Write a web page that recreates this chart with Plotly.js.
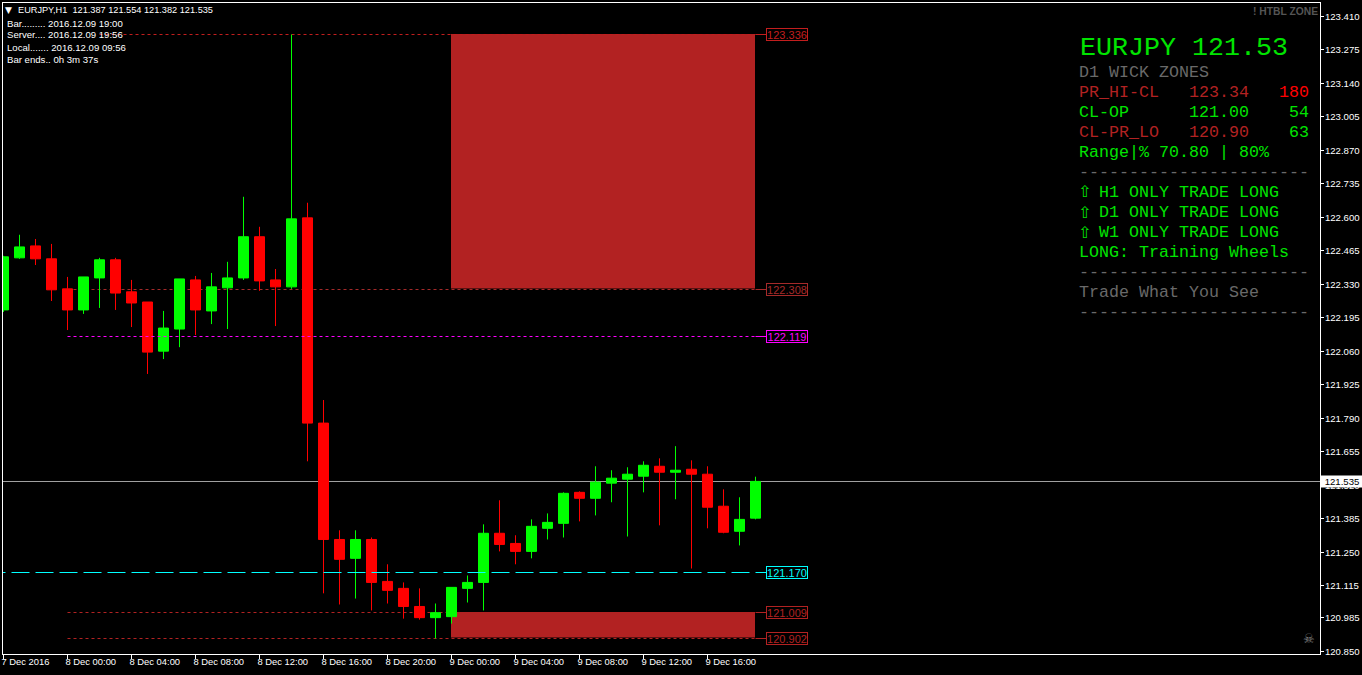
<!DOCTYPE html>
<html>
<head>
<meta charset="utf-8">
<script src="https://cdn.plot.ly/plotly-3.0.1.min.js"></script>
<style>html,body{margin:0;padding:0;background:#000;overflow:hidden}#chart{width:1362px;height:675px}</style>
</head>
<body>
<div id="chart"></div>
<script>
const times = [
 "2016-12-07 20:00","2016-12-07 21:00","2016-12-07 22:00","2016-12-07 23:00",
 "2016-12-08 00:00","2016-12-08 01:00","2016-12-08 02:00","2016-12-08 03:00","2016-12-08 04:00","2016-12-08 05:00",
 "2016-12-08 06:00","2016-12-08 07:00","2016-12-08 08:00","2016-12-08 09:00","2016-12-08 10:00","2016-12-08 11:00",
 "2016-12-08 12:00","2016-12-08 13:00","2016-12-08 14:00","2016-12-08 15:00","2016-12-08 16:00","2016-12-08 17:00",
 "2016-12-08 18:00","2016-12-08 19:00","2016-12-08 20:00","2016-12-08 21:00","2016-12-08 22:00","2016-12-08 23:00",
 "2016-12-09 00:00","2016-12-09 01:00","2016-12-09 02:00","2016-12-09 03:00","2016-12-09 04:00","2016-12-09 05:00",
 "2016-12-09 06:00","2016-12-09 07:00","2016-12-09 08:00","2016-12-09 09:00","2016-12-09 10:00","2016-12-09 11:00",
 "2016-12-09 12:00","2016-12-09 13:00","2016-12-09 14:00","2016-12-09 15:00","2016-12-09 16:00","2016-12-09 17:00",
 "2016-12-09 18:00","2016-12-09 19:00"];
const opens = [122.226,122.436,122.484,122.432,122.311,122.226,122.355,122.428,122.299,122.258,122.060,122.149,122.347,122.222,122.315,122.355,
 122.521,122.347,122.319,122.597,121.770,121.301,121.225,121.301,121.132,121.104,121.031,120.986,120.990,121.104,121.128,121.326,
 121.285,121.253,121.346,121.366,121.491,121.467,121.528,121.544,121.556,121.596,121.572,121.584,121.564,121.435,121.334,121.387];
const highs = [122.444,122.529,122.512,122.492,122.359,122.359,122.436,122.436,122.347,122.258,122.222,122.351,122.363,122.375,122.420,122.682,
 122.561,122.391,123.336,122.658,121.863,121.338,121.338,121.309,121.201,121.128,121.104,121.043,121.108,121.156,121.362,121.459,
 121.318,121.382,121.406,121.491,121.495,121.596,121.580,121.592,121.616,121.628,121.677,121.620,121.596,121.503,121.471,121.554];
const lows = [122.218,122.432,122.407,122.262,122.145,122.210,122.234,122.226,122.157,121.968,122.028,122.076,122.125,122.169,122.149,122.347,
 122.303,122.161,122.311,121.616,121.084,121.039,121.063,121.015,121.043,120.982,120.978,120.902,120.962,121.047,121.015,121.253,
 121.201,121.225,121.301,121.309,121.374,121.398,121.451,121.313,121.491,121.358,121.463,121.184,121.346,121.326,121.277,121.382];
const closes = [122.440,122.480,122.432,122.307,122.226,122.359,122.428,122.294,122.254,122.056,122.153,122.351,122.226,122.319,122.355,122.521,
 122.343,122.319,122.593,121.770,121.301,121.221,121.301,121.128,121.096,121.031,120.986,121.006,121.108,121.128,121.326,121.281,
 121.253,121.354,121.370,121.487,121.467,121.532,121.548,121.564,121.600,121.572,121.580,121.564,121.431,121.330,121.382,121.535];

const yTickVals = [123.410,123.275,123.140,123.005,122.870,122.735,122.600,122.465,122.330,122.195,122.060,121.925,121.790,121.655,121.520,121.385,121.250,121.115,120.985,120.850];
const yTickText = ["123.410","123.275","123.140","123.005","122.870","122.735","122.600","122.465","122.330","122.195","122.060","121.925","121.790","121.655","121.520","121.385","121.250","121.115","120.985","120.850"];
const xTickVals = ["2016-12-07 20:00","2016-12-08 00:00","2016-12-08 04:00","2016-12-08 08:00","2016-12-08 12:00","2016-12-08 16:00","2016-12-08 20:00","2016-12-09 00:00","2016-12-09 04:00","2016-12-09 08:00","2016-12-09 12:00","2016-12-09 16:00"];
const xTickText = ["7 Dec 2016","8 Dec 00:00","8 Dec 04:00","8 Dec 08:00","8 Dec 12:00","8 Dec 16:00","8 Dec 20:00","9 Dec 00:00","9 Dec 04:00","9 Dec 08:00","9 Dec 12:00","9 Dec 16:00"];

const zoneStart = "2016-12-08 23:58:07.5", zoneEnd = "2016-12-09 18:58:07.5", lineEnd = "2016-12-09 19:00", tagStart = "2016-12-09 19:40";
const zoneTops = [123.338,121.009];
const zoneBottoms = [122.312,120.906];
const levelPrices = [123.33596,122.30836,122.11896,121.16792,121.00672,120.90195];
const levelLabels = ["123.336","122.308","122.119","121.170","121.009","120.902"];
const levelColors = ["#C21E1E","#A52A2A","#FF00FF","#00FFFF","#B22222","#B22222"];
const levelStarts = ["2016-12-08 02:00","2016-12-08 00:00","2016-12-08 00:00","2016-12-07 19:00","2016-12-08 00:00","2016-12-08 00:00"];
const levelAbove = [false,false,true,true,false,false];
const lastPrice = 121.53463, lastLabel = "121.535";

const LIME="#00E400", FIRE="#B22222", DIM="#696969", RED="#FF0000";
const panelText = [
 ["EURJPY 121.53",1079,48,LIME,26.67],
 ["D1 WICK ZONES",1078,72.4,DIM,16.67],
 ["PR_HI-CL",1078,92.4,FIRE,16.67],["123.34",1188,92.4,FIRE,16.67],["180",1278,92.4,RED,16.67],
 ["CL-OP",1078,112.4,LIME,16.67],["121.00",1188,112.4,LIME,16.67],["54",1288,112.4,LIME,16.67],
 ["CL-PR_LO",1078,132.4,FIRE,16.67],["120.90",1188,132.4,FIRE,16.67],["63",1288,132.4,LIME,16.67],
 ["Range|% 70.80 | 80%",1078,152.4,LIME,16.67],
 ["-----------------------",1078,172.4,DIM,16.67],
 ["H1 ONLY TRADE LONG",1098,192.4,LIME,16.67],
 ["D1 ONLY TRADE LONG",1098,212.4,LIME,16.67],
 ["W1 ONLY TRADE LONG",1098,232.4,LIME,16.67],
 ["LONG: Training Wheels",1078,252.4,LIME,16.67],
 ["-----------------------",1078,272.4,DIM,16.67],
 ["Trade What You See",1078,292.4,DIM,16.67],
 ["-----------------------",1078,312.4,DIM,16.67]
];
const arrowRows = [192,212,232];
const infoText = [
 ["EURJPY,H1  121.387 121.554 121.382 121.535",17,10,9.2],
 ["Bar......... 2016.12.09 19:00",6,23,9.6],
 ["Server.... 2016.12.09 19:56",6,35,9.6],
 ["Local....... 2016.12.09 09:56",6,47,9.6],
 ["Bar ends.. 0h 3m 37s",6,59,9.6]
];

const L=3,T=3,W=1317,H=651;
const px=x=>(x-L)/W, py=y=>1-(y-T)/H;
const SMALL="Liberation Sans, Arial, sans-serif", MONO="Liberation Mono, Courier New, monospace";
const note=(text,x,y,color,size,family,extra)=>Object.assign({text,x:px(x),y:py(y),xref:"paper",yref:"paper",xanchor:"left",yanchor:"middle",align:"left",showarrow:false,borderpad:0,font:{color,size,family}},extra||{});

const shapes=[];
zoneTops.forEach((t,i)=>shapes.push({type:"rect",xref:"x",yref:"y",x0:zoneStart,x1:zoneEnd,y0:zoneBottoms[i],y1:t,fillcolor:"#B22222",line:{width:0},layer:"below"}));
shapes.push({type:"line",xref:"paper",yref:"y",x0:0,x1:1,y0:lastPrice,y1:lastPrice,line:{color:"#A0A0A0",width:1},layer:"below"});
levelPrices.forEach((p,i)=>{
  const layer=levelAbove[i]?"above":"below";
  const dash=i===3?"18px,6px":"3px,3px";
  shapes.push({type:"line",xref:"x",yref:"y",x0:levelStarts[i],x1:lineEnd,y0:p,y1:p,line:{color:levelColors[i],width:1,dash},layer});
  shapes.push({type:"line",xref:"x",yref:"y",x0:lineEnd,x1:tagStart,y0:p,y1:p,line:{color:levelColors[i],width:1},layer});
});

const annotations=[];
panelText.forEach(r=>annotations.push(note(r[0],r[1],r[2],r[3],r[4],MONO)));
arrowRows.forEach(y=>annotations.push(note("\u21E7",1077,y,LIME,16,"DejaVu Sans")));
infoText.forEach(r=>annotations.push(note(r[0],r[1],r[2],"#FFFFFF",r[3],SMALL)));
annotations.push(note("\u25BC",4,10,"#FFFFFF",9,"DejaVu Sans"));
annotations.push(note("! HTBL ZONE",1252,11,"#555555",10.3,SMALL,{font:{color:"#555555",size:10.3,family:SMALL,weight:"bold"}}));
annotations.push(note("\u2620",1302,638,"#808080",13,"DejaVu Sans"));
levelPrices.forEach((p,i)=>annotations.push({text:levelLabels[i],x:tagStart,y:p,xref:"x",yref:"y",xanchor:"left",yanchor:"middle",showarrow:false,
  width:40,height:11,borderpad:0,borderwidth:1,bordercolor:levelColors[i],bgcolor:"#000000",align:"center",font:{color:levelColors[i],size:11,family:SMALL}}));
annotations.push({text:lastLabel,x:1,y:lastPrice,xref:"paper",yref:"y",xanchor:"left",yanchor:"middle",showarrow:false,width:42,height:11,borderpad:0,bgcolor:"#FFFFFF",font:{color:"#000000",size:9.6,family:SMALL}});

const trace={type:"candlestick",x:times,open:opens,high:highs,low:lows,close:closes,whiskerwidth:0,hoverinfo:"skip",
  increasing:{line:{color:"#00FF00",width:1},fillcolor:"#00FF00"},
  decreasing:{line:{color:"#FF0000",width:1},fillcolor:"#FF0000"}};

const layout={width:1362,height:675,margin:{l:L,r:1362-L-W,t:T,b:675-T-H,pad:0},paper_bgcolor:"#000",plot_bgcolor:"#000",showlegend:false,
  boxgap:0.375,boxgroupgap:0,
  xaxis:{type:"date",range:["2016-12-07 19:58:07.5","2016-12-11 06:16:52.5"],rangeslider:{visible:false},showgrid:false,zeroline:false,
    showline:true,linecolor:"#FFF",linewidth:1,mirror:true,ticks:"outside",ticklen:4,tickcolor:"#FFF",tickwidth:1,
    tickmode:"array",tickvals:xTickVals,ticktext:xTickText,tickangle:0,ticklabelposition:"outside right",ticklabeloverflow:"allow",ticklabelshift:-3,ticklabelstandoff:-1,
    tickfont:{color:"#FFF",size:9.4,family:SMALL}},
  yaxis:{type:"linear",side:"right",range:[120.8395,123.4629],showgrid:false,zeroline:false,
    showline:true,linecolor:"#FFF",linewidth:1,mirror:true,ticks:"outside",ticklen:3,tickcolor:"#FFF",tickwidth:1,ticklabelstandoff:-1,
    tickmode:"array",tickvals:yTickVals,ticktext:yTickText,tickfont:{color:"#FFF",size:9.6,family:SMALL}},
  shapes,annotations};
Plotly.newPlot("chart",[trace],layout,{displayModeBar:false,staticPlot:true});
</script>
</body>
</html>
